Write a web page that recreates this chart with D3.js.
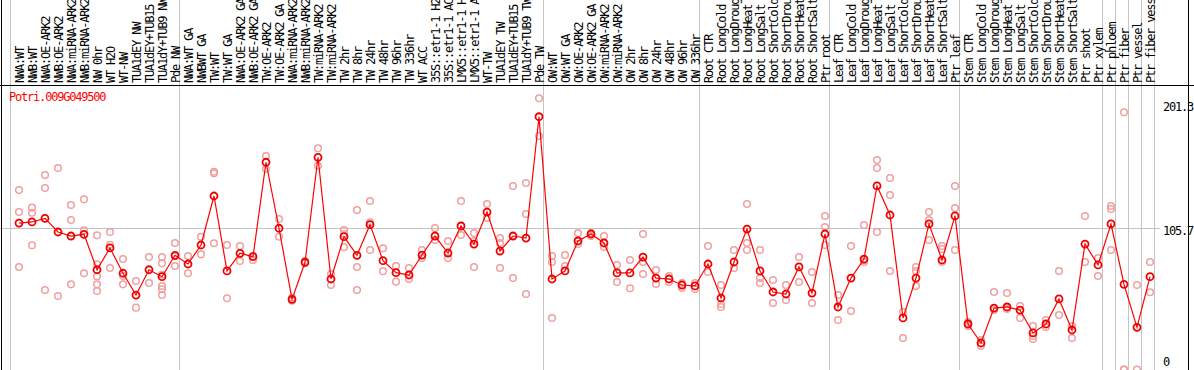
<!DOCTYPE html>
<html><head><meta charset="utf-8">
<script src="https://cdn.jsdelivr.net/npm/d3@7"></script>
<style>
body{margin:0;background:#fff;}
text{font-family:"DejaVu Sans Mono","Liberation Mono",monospace;font-size:12px;}
</style>
</head><body>
<svg id="chart" width="1194" height="370"></svg>
<script>
const title = "Potri.009G049500";
const categories = [
"NWA:WT","NWB:WT","NWA:OE-ARK2","NWB:OE-ARK2","NWA:miRNA-ARK2","NWB:miRNA-ARK2","NW 0hr","WT H2O","WT-NW","TUA1dEY NW","TUA1dEY+TUB15 NW","TUA1dY+TUB9 NW","Pde NW",
"NWA:WT GA","NWBWT GA","TW:WT","TW:WT GA","NWA:OE-ARK2 GA","NWB:OE-ARK2 GA","TW:OE-ARK2","TW:OE-ARK2 GA","NWA:miRNA-ARK2","NWB:miRNA-ARK2","TW:miRNA-ARK2","TW:miRNA-ARK2","TW 2hr","TW 8hr","TW 24hr","TW 48hr","TW 96hr","TW 336hr","WT ACC","35S::etr1-1 H2O","35S::etr1-1 ACC","LMX5::etr1-1 H2O","LMX5::etr1-1 ACC","WT-TW","TUA1dEY TW","TUA1dEY+TUB15 TW","TUA1dY+TUB9 TW","Pde TW",
"OW:WT","OW:WT GA","OW:OE-ARK2","OW:OE-ARK2 GA","OW:miRNA-ARK2","OW:miRNA-ARK2","OW 2hr","OW 8hr","OW 24hr","OW 48hr","OW 96hr","OW 336hr",
"Root CTR","Root LongCold","Root LongDrought","Root LongHeat","Root LongSalt","Root ShortCold","Root ShortDrought","Root ShortHeat","Root ShortSalt","Ptr root",
"Leaf CTR","Leaf LongCold","Leaf LongDrought","Leaf LongHeat","Leaf LongSalt","Leaf ShortCold","Leaf ShortDrought","Leaf ShortHeat","Leaf ShortSalt","Ptr leaf",
"Stem CTR","Stem LongCold","Stem LongDrought","Stem LongHeat","Stem LongSalt","Stem ShortCold","Stem ShortDrought","Stem ShortHeat","Stem ShortSalt","Ptr shoot","Ptr xylem",
"Ptr phloem","Ptr fiber","Ptr vessel","Ptr fiber vessel"
];
// category indices where a new group begins (plus the end)
const groupStarts = [0,13,41,53,63,73,84,85,86,87,88];
const means = [
109.4,110.2,112.9,102.7,99.7,101.0,74.5,90.8,71.9,55.6,74.5,69.3,85.3,
78.8,93.0,129.6,73.6,86.8,84.3,154.8,105.5,52.4,80.1,158.5,67.6,99.2,85.3,108.2,81.3,72.3,70.6,85.5,99.7,87.0,107.2,93.7,117.6,88.5,99.7,98.2,188.8,
67.6,73.6,96.0,101.2,94.5,72.1,72.1,84.0,68.3,67.6,63.1,62.4,
78.8,53.4,80.3,104.9,73.6,57.9,56.4,76.6,57.1,101.2,
46.7,68.3,82.5,137.1,115.4,38.5,68.3,108.7,81.8,114.7,
34.0,19.8,45.9,46.7,44.4,27.3,34.0,52.7,29.5,93.7,78.1,
108.7,63.6,31.5,69.3
];
const replicates = [
[134.1,117.6,76.6],[120.9,117.1,92.8],[145.3,135.6,59.4],[150.5,54.9],[122.9,111.7,63.6],[127.1,104.0,71.9],[100.2,78.6,69.6,63.6,58.6],[102.7,93.2,75.8],[82.5,69.8,63.6],[66.1,46.2],[84.0,64.6],[84.0,79.3,70.8,62.4,59.9,55.6],[94.5,84.6,77.3],
[84.8,71.9],[99.2,86.0],[147.7,146.5,94.3],[93.0,53.2],[92.2,81.0],[84.8,81.8],[159.5,149.8],[112.4,99.2],[53.6,51.4],[81.0,79.3],[165.2,152.2],[71.3,63.1],[104.2,101.2,91.3],[119.1,76.6,59.4],[125.9,109.9,89.3],[90.5,73.4],[77.3,65.6],[75.8,67.6],[89.3,83.3],[105.7,96.7],[96.0,83.3],[125.9,100.5],[102.0,96.0,76.6],[123.6,113.2],[98.2,94.5,75.8],[137.1,99.7,68.3],[139.3,116.1,56.4],[202.6,174.4],
[84.8,80.3,38.5],[85.5,77.3],[102.0,93.7],[102.0,99.7],[99.7,91.5],[78.1,65.4],[81.8,60.7],[101.2,80.3,71.3],[74.3,63.9],[69.8,65.4],[64.6,60.9],[64.6,60.1],
[92.2,72.8],[63.1,48.9,46.7],[89.3,75.8],[123.6,94.5,89.3],[89.3,68.3,64.6],[66.8,49.7],[63.1,51.9],[84.0,65.4],[72.8,49.7],[114.7,106.4,93.0],
[55.6,37.0],[92.2,43.7],[107.9,81.8,80.3],[156.4,150.5,102.7],[143.0,130.3,73.6],[43.0,23.5],[76.6,73.6,62.4],[117.6,111.7,96.7],[92.2,90.0,80.3],[137.1,120.6,89.3],
[35.5,32.5],[22.0,17.6],[57.9,44.4],[57.1,45.2],[47.4,38.5],[32.5,25.0,22.8],[37.0,31.7],[73.6,40.7],[32.5,23.5],[114.7,80.3],[83.3,69.8],
[122.1,119.9,89.3],[192.1,0,0],[63.1,0],[57.7,80.3]
];
const yTickValues = [201.3, 105.7, 0];

const W = 1194, H = 370;
const svg = d3.select("#chart");
const x = d3.scaleBand().domain(d3.range(categories.length)).range([11, 11 + 13 * categories.length]).paddingInner(0).paddingOuter(0);
const cx = i => x(i) + 8;
const y = d3.scaleLinear().domain([0, 201.3]).range([369.5, 100]);

// group grid lines
svg.append("g").selectAll("line").data(groupStarts).join("line")
  .attr("x1", k => (k < categories.length ? x(k) : x(categories.length - 1) + x.step()) - 0.5)
  .attr("x2", k => (k < categories.length ? x(k) : x(categories.length - 1) + x.step()) - 0.5)
  .attr("y1", 0).attr("y2", H)
  .attr("stroke", "#c4c4c4").attr("stroke-width", 1);

// horizontal mid grid line
svg.append("line")
  .attr("x1", 0).attr("x2", 1160)
  .attr("y1", Math.round(y(yTickValues[1])) + 0.5).attr("y2", Math.round(y(yTickValues[1])) + 0.5)
  .attr("stroke", "#c4c4c4").attr("stroke-width", 1);

// frame lines
svg.append("line").attr("x1", 1.5).attr("x2", 1.5).attr("y1", 0).attr("y2", H).attr("stroke", "#000");
svg.append("line").attr("x1", 1188.5).attr("x2", 1188.5).attr("y1", 0).attr("y2", H).attr("stroke", "#000");
svg.append("line").attr("x1", 0).attr("x2", W).attr("y1", 85.5).attr("y2", 85.5).attr("stroke", "#000");

// category labels
svg.append("g").selectAll("text").data(categories).join("text")
  .attr("transform", (d, i) => `translate(${cx(i) + 4.5},83) rotate(-90)`)
  .attr("letter-spacing", "-1.2px")
  .attr("fill", "#000")
  .text(d => d);

// title
svg.append("text").attr("x", 9).attr("y", 101).attr("fill", "#ff0000")
  .attr("letter-spacing", "-1.2px").text(title);

// y tick labels
svg.append("g").selectAll("text").data(yTickValues).join("text")
  .attr("x", 1163)
  .attr("y", v => v === 0 ? y(v) - 4 : (v === yTickValues[0] ? y(v) + 11 : y(v) + 7))
  .attr("letter-spacing", "-1.2px")
  .attr("fill", "#000")
  .text(v => v === 0 ? "0" : d3.format(".1f")(v));

// replicate points
const repData = [];
replicates.forEach((arr, i) => arr.forEach(v => repData.push({i, v})));
svg.append("g").selectAll("circle").data(repData).join("circle")
  .attr("cx", d => cx(d.i)).attr("cy", d => y(d.v)).attr("r", 3.3)
  .attr("fill", "none").attr("stroke", "#f0a0a0").attr("stroke-width", 1.5);

// mean line
svg.append("path").datum(means)
  .attr("d", d3.line().x((d, i) => cx(i)).y(d => y(d)))
  .attr("fill", "none").attr("stroke", "#ff0000").attr("stroke-width", 1.2);

// mean points
svg.append("g").selectAll("circle").data(means).join("circle")
  .attr("cx", (d, i) => cx(i)).attr("cy", d => y(d)).attr("r", 3.5)
  .attr("fill", "none").attr("stroke", "#ee0000").attr("stroke-width", 1.8);
</script>
</body></html>
